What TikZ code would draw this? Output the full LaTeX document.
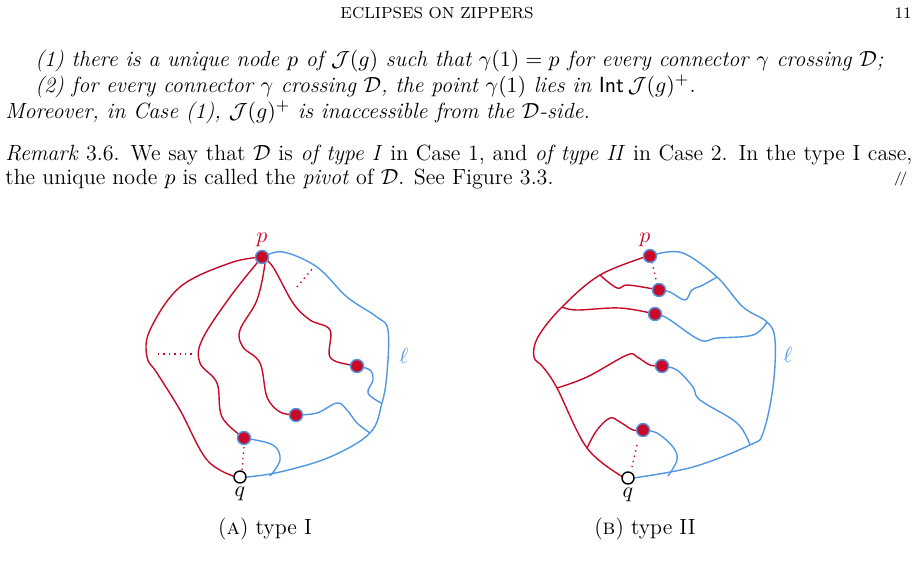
\documentclass[tikz,border=0pt]{standalone}
\usepackage{amsmath,amssymb}
\definecolor{rd}{RGB}{200,10,40}
\definecolor{bl}{RGB}{80,150,225}
\newcommand{\bodyfs}{\fontsize{11}{13}\selectfont}
\tikzset{
 rl/.style={draw=rd,line width=0.7pt},
 bll/.style={draw=bl,line width=0.7pt},
 dotl/.style={draw=rd,line width=0.7pt,dotted},
 pt/.style={circle,fill=rd,draw=bl,line width=0.7pt,inner sep=0pt,minimum size=6.5pt},
 qt/.style={circle,fill=white,draw=black,line width=0.7pt,inner sep=0pt,minimum size=6pt},
 tx/.style={anchor=base west,inner sep=0pt,font=\bodyfs},
}
\begin{document}
\begin{tikzpicture}[x=0.5pt,y=-0.5pt]
\useasboundingbox (0,0) rectangle (918,569);
% text
\node[anchor=base,inner sep=0pt,font=\footnotesize] (hd) at (437,18) {ECLIPSES ON ZIPPERS};
\node[anchor=base east,inner sep=0pt,font=\footnotesize] (pg) at (912,18) {11};
\node[tx] (l1) at (35,66) {\itshape (1) there is a unique node $p$ of $\mathcal{J}(g)$ such that $\gamma(1)=p$ for every connector $\gamma$ crossing $\mathcal{D}$;};
\node[tx] (l2) at (35,92) {\itshape (2) for every connector $\gamma$ crossing $\mathcal{D}$, the point $\gamma(1)$ lies in $\mathsf{Int}\,\mathcal{J}(g)^{+}$.};
\node[tx] (l3) at (5,118) {\itshape Moreover, in Case (1), $\mathcal{J}(g)^{+}$ is inaccessible from the $\mathcal{D}$-side.};
\node[tx] (l4) at (5,160) {\makebox[453.5pt][s]{\textit{Remark} 3.6. We say that $\mathcal{D}$ is \textit{of type I} in Case 1, and \textit{of type II} in Case 2. In the type I case,}};
\node[tx] (l5) at (5,184) {the unique node $p$ is called the \textit{pivot} of $\mathcal{D}$. See Figure 3.3.};
\node[anchor=base east,inner sep=0pt,font=\scriptsize] (end) at (908,182) {$/\!/$};
% ===== Figure A
\draw[bll] plot[smooth,tension=0.6] coordinates {(263,257)(283,252)(317,267)(347,297)(377,317)(388,330)(387,373)(382,403)(370,433)(330,457)(280,472)(247,477)};
\draw[rl] plot[smooth,tension=0.6] coordinates {(262,257)(230,263)(180,287)(150,330)(147,357)(157,373)(180,410)(207,460)(236,477)};
\draw[dotl] (158,354) -- (193,354);
\draw[rl] plot[smooth,tension=0.6] coordinates {(262,257)(230,297)(202,340)(200,363)(217,383)(222,417)(244,438)};
\draw[dotl] (244,447) -- (242,470);
\draw[bll] plot[smooth,tension=0.6] coordinates {(244,438)(273,445)(280,460)(270,476)};
\draw[rl] plot[smooth,tension=0.6] coordinates {(262,257)(265,263)(257,300)(240,330)(243,347)(260,363)(267,397)(280,412)(296,415)};
\draw[bll] plot[smooth,tension=0.6] coordinates {(296,415)(317,413)(337,403)(347,410)(357,423)(370,433)};
\draw[rl] plot[smooth,tension=0.6] coordinates {(262,257)(273,267)(293,303)(310,320)(330,330)(330,357)(350,365)(357,366)};
\draw[bll] plot[smooth,tension=0.6] coordinates {(357,366)(370,370)(373,380)(368,393)(381,403)};
\draw[dotl] (297,287) -- (313,268);
\node[pt] (pA) at (262,257) {};
\node[pt] (a1) at (244,438) {};
\node[pt] (a2) at (296,415) {};
\node[pt] (a3) at (357,366) {};
\node[qt] (qA) at (240,477) {};
\node[text=rd,font=\bodyfs] (plA) at (262,240) {$p$};
\node[font=\bodyfs] (qlA) at (240,494) {$q$};
\node[text=bl,font=\bodyfs] (elA) at (404,356) {$\ell$};
\node[anchor=base,inner sep=0pt,font=\bodyfs] (capA) at (265,534) {(\textsc{a}) type I};
% ===== Figure B
\draw[bll] plot[smooth,tension=0.6] coordinates {(657,254)(683,253)(717,277)(743,307)(767,322)(775,340)(773,387)(763,433)(750,445)(693,467)(633,478)};
\draw[rl] plot[smooth,tension=0.6] coordinates {(648,256)(600,275)(562,307)(538,337)(534,357)(543,367)(557,388)(587,448)(623,477)};
\draw[rl] plot[smooth,tension=0.6] coordinates {(600,275)(617,288)(628,285)(659,290)};
\draw[dotl] (652,262) -- (657,284);
\draw[bll] plot[smooth,tension=0.6] coordinates {(659,290)(670,292)(685,300)(692,290)(703,285)(717,277)};
\draw[rl] plot[smooth,tension=0.6] coordinates {(562,307)(577,310)(620,308)(655,314)};
\draw[bll] plot[smooth,tension=0.6] coordinates {(655,314)(667,318)(700,340)(717,338)(753,335)(767,322)};
\draw[rl] plot[smooth,tension=0.6] coordinates {(557,388)(587,377)(627,355)(637,357)(650,365)(662,366)};
\draw[bll] plot[smooth,tension=0.6] coordinates {(662,366)(677,370)(693,387)(700,400)(737,423)(750,445)};
\draw[rl] plot[smooth,tension=0.6] coordinates {(587,448)(597,430)(610,418)(620,422)(633,430)(643,430)};
\draw[dotl] (637,445) -- (632,467);
\draw[bll] plot[smooth,tension=0.6] coordinates {(643,430)(657,433)(673,447)(677,460)(668,476)};
\node[pt] (pB) at (650,256) {};
\node[pt] (b1) at (659,290) {};
\node[pt] (b2) at (655,314) {};
\node[pt] (b3) at (662,366) {};
\node[pt] (b4) at (643,430) {};
\node[qt] (qB) at (628,478) {};
\node[text=rd,font=\bodyfs] (plB) at (645,240) {$p$};
\node[font=\bodyfs] (qlB) at (628,495) {$q$};
\node[text=bl,font=\bodyfs] (elB) at (788,355) {$\ell$};
\node[anchor=base,inner sep=0pt,font=\bodyfs] (capB) at (645,534) {(\textsc{b}) type II};
\end{tikzpicture}
\end{document}
